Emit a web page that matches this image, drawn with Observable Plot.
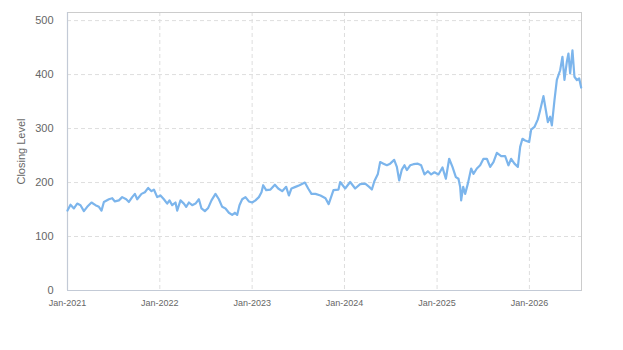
<!DOCTYPE html>
<html>
<head>
<meta charset="utf-8">
<script src="https://cdn.jsdelivr.net/npm/d3@7"></script>
<script src="https://cdn.jsdelivr.net/npm/@observablehq/plot@0.6"></script>
<style>
  html, body { margin: 0; padding: 0; background: #fff; }
  #chart { width: 623px; height: 350px; }
</style>
</head>
<body>
<div id="chart"></div>
<script>
// Years elapsed since 1 Jan 2021
const yearsSinceStart = [
  0.0000, 0.0325, 0.0693, 0.1050, 0.1407, 0.1775, 0.2132, 0.2597, 0.3030, 0.3398,
  0.3680, 0.3939, 0.4481, 0.4838, 0.5130, 0.5563, 0.5920, 0.6353, 0.6645, 0.7002,
  0.7294, 0.7543, 0.8009, 0.8377, 0.8734, 0.9091, 0.9351, 0.9708, 1.0065, 1.0433,
  1.0790, 1.1039, 1.1331, 1.1688, 1.1872, 1.2229, 1.2597, 1.2846, 1.3139, 1.3496,
  1.3853, 1.4221, 1.4502, 1.4870, 1.5227, 1.5584, 1.6017, 1.6385, 1.6742, 1.7100,
  1.7468, 1.7825, 1.8117, 1.8366, 1.8615, 1.8907, 1.9264, 1.9632, 1.9989, 2.0346,
  2.0714, 2.0996, 2.1180, 2.1504, 2.1970, 2.2446, 2.2803, 2.3236, 2.3669, 2.3961,
  2.4242, 2.4675, 2.5108, 2.5693, 2.6050, 2.6407, 2.6840, 2.7381, 2.7922, 2.8268,
  2.8788, 2.9329, 2.9513, 3.0054, 3.0595, 3.1136, 3.1677, 3.2219, 3.2652, 3.2944,
  3.3225, 3.3593, 3.3842, 3.4199, 3.4567, 3.4924, 3.5357, 3.5649, 3.5898, 3.6190,
  3.6472, 3.6732, 3.7089, 3.7446, 3.7922, 3.8279, 3.8636, 3.9004, 3.9361, 3.9719,
  4.0152, 4.0584, 4.0952, 4.1310, 4.1667, 4.2035, 4.2316, 4.2500, 4.2608, 4.2825,
  4.3041, 4.3333, 4.3690, 4.3939, 4.4307, 4.4665, 4.5022, 4.5390, 4.5747, 4.6104,
  4.6472, 4.6938, 4.7370, 4.7727, 4.8019, 4.8377, 4.8745, 4.8994, 4.9242, 4.9535,
  4.9968, 5.0184, 5.0541, 5.0909, 5.1158, 5.1515, 5.1775, 5.1991, 5.2240, 5.2424,
  5.2706, 5.2965, 5.3323, 5.3571, 5.3788, 5.4048, 5.4221, 5.4405, 5.4654, 5.4870,
  5.5130, 5.5379, 5.5595
];
// Closing level at each of those points
const closingLevel = [
  148, 159, 152, 161, 158, 147, 155, 163, 158, 155,
  148, 164, 169, 171, 165, 167, 173, 169, 164, 173,
  179, 169, 179, 182, 190, 184, 187, 173, 176, 169,
  161, 167, 158, 163, 148, 167, 161, 155, 163, 158,
  161, 169, 152, 147, 153, 167, 179, 169, 155, 152,
  144, 140, 144, 140, 158, 169, 173, 165, 163, 167,
  173, 182, 195, 186, 187, 196, 189, 184, 192, 176,
  189, 192, 195, 200, 189, 179, 179, 176, 171, 160,
  186, 187, 201, 189, 201, 189, 197, 198, 192, 187,
  203, 216, 238, 235, 232, 235, 242, 229, 204, 224,
  232, 223, 232, 234, 235, 232, 215, 221, 215, 219,
  215, 228, 207, 244, 229, 210, 207, 192, 167, 192,
  179, 198, 226, 216, 226, 232, 244, 244, 229, 238,
  255, 249, 249, 232, 244, 235, 229, 266, 281, 278,
  275, 298, 303, 317, 334, 360, 334, 312, 322, 306,
  352, 390, 408, 433, 390, 424, 439, 402, 445, 396,
  390, 393, 376
];
const startDate = new Date(Date.UTC(2021, 0, 1));
const endDate = new Date(Date.UTC(2026, 6, 26));
const xTickDates = ["2021-01-01", "2022-01-01", "2023-01-01", "2024-01-01", "2025-01-01", "2026-01-01"].map(d => new Date(d));
const yTickValues = [0, 100, 200, 300, 400, 500];
const yTitle = "Closing Level";

const DAY = 864e5;
const data = yearsSinceStart.map((t, i) => ({
  date: new Date(startDate.getTime() + t * 365.25 * DAY),
  close: closingLevel[i]
}));

const font = "'Liberation Sans', Arial, Helvetica, sans-serif";
const chart = Plot.plot({
  width: 623,
  height: 350,
  marginLeft: 67,
  marginRight: 42,
  marginTop: 12,
  marginBottom: 60,
  style: { fontFamily: font, fontSize: "11px", color: "#666", background: "#fff", overflow: "visible" },
  x: { type: "utc", domain: [startDate, endDate] },
  y: { domain: [0, 515] },
  marks: [
    Plot.gridY(yTickValues.slice(1), { stroke: "#dedede", strokeOpacity: 1, strokeDasharray: "4,3" }),
    Plot.gridX(xTickDates.slice(1), { stroke: "#dedede", strokeOpacity: 1, strokeDasharray: "4,3" }),
    Plot.frame({ stroke: "#cccccc" }),
    Plot.ruleY([0], { stroke: "#c3cad6", strokeWidth: 1.2 }),
    Plot.ruleX([startDate], { stroke: "#c3cad6", strokeWidth: 1.2 }),
    Plot.axisY(yTickValues, {
      tickSize: 0, tickPadding: 14, fontSize: 11, fill: "#666",
      label: yTitle, labelAnchor: "center", labelArrow: "none", labelOffset: 50
    }),
    Plot.axisX(xTickDates, {
      tickSize: 0, tickPadding: 9, fontSize: 9, fill: "#666",
      tickFormat: d3.utcFormat("%b-%Y"), label: null
    }),
    Plot.lineY(data, { x: "date", y: "close", stroke: "#7cb5ec", strokeWidth: 2.2, strokeLinejoin: "round" })
  ]
});
document.getElementById("chart").appendChild(chart);
</script>
</body>
</html>
